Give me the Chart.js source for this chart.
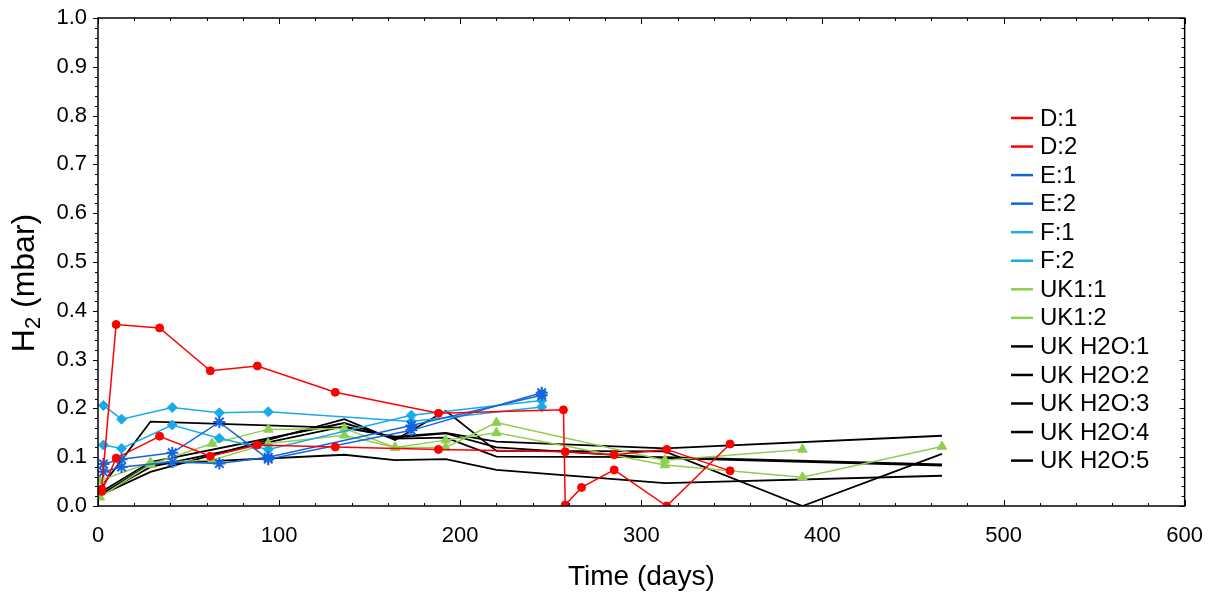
<!DOCTYPE html>
<html>
<head>
<meta charset="utf-8">
<script src="https://cdn.jsdelivr.net/npm/chart.js@4.4.1/dist/chart.umd.min.js"></script>
<style>
  html, body { margin: 0; padding: 0; background: #fff; }
  #wrap { width: 1212px; height: 594px; }
</style>
</head>
<body>
<div id="wrap"><canvas id="myChart" width="1212" height="594"></canvas></div>
<script>
// values (days, mbar)
var dX1 = [2, 10, 34, 62, 88, 131, 188, 257, 258, 267, 285, 314, 349];
var dY1 = [0.035, 0.372, 0.365, 0.277, 0.287, 0.233, 0.19, 0.197, 0.002, 0.038, 0.074, 0.0, 0.127];
var dX2 = [2, 10, 34, 62, 88, 131, 188, 258, 285, 314, 349];
var dY2 = [0.03, 0.098, 0.143, 0.102, 0.125, 0.121, 0.116, 0.111, 0.105, 0.116, 0.072];

var efX = [3, 13, 41, 67, 94, 173, 245];
var eY1 = [0.086, 0.096, 0.109, 0.172, 0.096, 0.155, 0.232];
var eY2 = [0.070, 0.080, 0.090, 0.087, 0.100, 0.165, 0.227];
var fY1 = [0.206, 0.178, 0.202, 0.191, 0.193, 0.173, 0.203];
var fY2 = [0.125, 0.118, 0.166, 0.139, 0.116, 0.186, 0.216];

var ukX1 = [1, 29, 63, 94, 136, 164, 192, 220, 313, 389];
var ukY1 = [0.018, 0.085, 0.128, 0.157, 0.159, 0.12, 0.12, 0.171, 0.094, 0.116];
var ukX2 = [1, 29, 63, 94, 136, 164, 192, 220, 313, 389, 466];
var ukY2 = [0.052, 0.089, 0.094, 0.128, 0.145, 0.12, 0.135, 0.150, 0.084, 0.059, 0.122];

var hX = [0, 29, 136, 164, 192, 220, 313, 466];
var hY1 = [0.03, 0.173, 0.16, 0.142, 0.15, 0.132, 0.118, 0.144];
var hX2 = [0, 29, 136, 164, 192, 220, 313, 389, 466];
var hY2 = [0.02, 0.07, 0.178, 0.135, 0.195, 0.113, 0.112, 0.0, 0.107];
var hY3 = [0.02, 0.08, 0.163, 0.14, 0.149, 0.12, 0.098, 0.083];
var hY4 = [0.02, 0.086, 0.105, 0.094, 0.096, 0.074, 0.047, 0.062];
var hY5 = [0.025, 0.09, 0.17, 0.138, 0.14, 0.101, 0.1, 0.085];

var xTicks = [0, 100, 200, 300, 400, 500, 600];
var yTicks = [0, 0.1, 0.2, 0.3, 0.4, 0.5, 0.6, 0.7, 0.8, 0.9, 1.0];

var RED = '#ff0000', BLUE = '#1565dc', LBLUE = '#19aaea', GREEN = '#8dcf4f', BLACK = '#000000';
var FONT = '"Liberation Sans", Arial, sans-serif';

function pts(xs, ys) {
  var out = [];
  for (var i = 0; i < xs.length; i++) out.push({x: xs[i], y: ys[i]});
  return out;
}

function series(label, xs, ys, color, style, r, bw) {
  return {
    label: label,
    data: pts(xs, ys),
    borderColor: color,
    backgroundColor: color,
    borderWidth: bw || 1.5,
    pointStyle: style || false,
    pointRadius: style ? r : 0,
    pointBorderWidth: style === 'star' ? 2 : 1,
    tension: 0
  };
}

// frame, major/minor ticks, y title and the in-plot legend
var framePlugin = {
  id: 'frame',
  afterDraw: function(chart) {
    var c = chart.ctx, a = chart.chartArea;
    var xs = chart.scales.x, ys = chart.scales.y;
    c.save();
    c.strokeStyle = '#000';
    c.lineWidth = 1.5;
    c.strokeRect(a.left, a.top, a.right - a.left, a.bottom - a.top);
    c.lineWidth = 1;
    c.beginPath();
    for (var v = 0; v <= 600; v += 20) {
      var px = Math.round(xs.getPixelForValue(v)) + 0.5;
      var len = (v % 100 === 0) ? 6 : 3;
      c.moveTo(px, a.bottom); c.lineTo(px, a.bottom - len);
      c.moveTo(px, a.top); c.lineTo(px, a.top + len);
    }
    for (var k = 0; k <= 50; k++) {
      var py = Math.round(ys.getPixelForValue(k * 0.02)) + 0.5;
      var l2 = (k % 5 === 0) ? 5 : 3;
      c.moveTo(a.left, py); c.lineTo(a.left - l2, py);
      c.moveTo(a.right, py); c.lineTo(a.right - l2, py);
    }
    c.stroke();

    // y title with a real subscript
    c.fillStyle = '#000';
    c.translate(34, 283);
    c.rotate(-Math.PI / 2);
    var big = '32px ' + FONT, small = '22px ' + FONT;
    c.font = big; var wH = c.measureText('H').width, wR = c.measureText(' (mbar)').width;
    c.font = small; var w2 = c.measureText('2').width;
    var x0 = -(wH + w2 + wR) / 2;
    c.textAlign = 'left';
    c.textBaseline = 'alphabetic';
    c.font = big; c.fillText('H', x0, 0);
    c.font = small; c.fillText('2', x0 + wH, 6);
    c.font = big; c.fillText(' (mbar)', x0 + wH + w2, 0);
    c.setTransform(1, 0, 0, 1, 0, 0);

    // legend
    var ds = chart.data.datasets;
    var lx = 1011, ly = 118, step = 28.55;
    c.font = '24px ' + FONT;
    c.textBaseline = 'middle';
    c.textAlign = 'left';
    for (var i = 0; i < ds.length; i++) {
      var y = ly + i * step;
      c.strokeStyle = ds[i].borderColor;
      c.lineWidth = 2.5;
      c.beginPath();
      c.moveTo(lx, y); c.lineTo(lx + 22, y);
      c.stroke();
      c.fillStyle = '#000';
      c.fillText(ds[i].label, lx + 29, y + 1);
    }
    c.restore();
  }
};

var ctx = document.getElementById('myChart');
new Chart(ctx, {
  type: 'line',
  data: {
    datasets: [
      series('D:1', dX1, dY1, RED, 'circle', 4),
      series('D:2', dX2, dY2, RED, 'circle', 4),
      series('E:1', efX, eY1, BLUE, 'star', 6),
      series('E:2', efX, eY2, BLUE, 'star', 6),
      series('F:1', efX, fY1, LBLUE, 'rectRot', 5),
      series('F:2', efX, fY2, LBLUE, 'rectRot', 5),
      series('UK1:1', ukX1, ukY1, GREEN, 'triangle', 5.5),
      series('UK1:2', ukX2, ukY2, GREEN, 'triangle', 5.5),
      series('UK H2O:1', hX, hY1, BLACK, false, 0, 1.8),
      series('UK H2O:2', hX2, hY2, BLACK, false, 0, 1.8),
      series('UK H2O:3', hX, hY3, BLACK, false, 0, 1.8),
      series('UK H2O:4', hX, hY4, BLACK, false, 0, 1.8),
      series('UK H2O:5', hX, hY5, BLACK, false, 0, 1.8)
    ]
  },
  plugins: [framePlugin],
  options: {
    responsive: false,
    animation: false,
    layout: { padding: { top: 18, right: 27, left: 0, bottom: 0 } },
    plugins: { legend: { display: false }, tooltip: { enabled: false } },
    scales: {
      x: {
        type: 'linear',
        min: 0, max: 600,
        afterFit: function(s) { s.height = 88; },
        afterBuildTicks: function(s) { s.ticks = xTicks.map(function(v) { return {value: v}; }); },
        grid: { display: false },
        border: { display: false },
        ticks: { color: '#000', font: { size: 22, family: FONT }, padding: 9, maxRotation: 0 },
        title: { display: true, text: 'Time (days)', color: '#000', font: { size: 28, family: FONT }, padding: { top: 4, bottom: 0 } }
      },
      y: {
        min: 0, max: 1,
        afterFit: function(s) { s.width = 98; },
        afterBuildTicks: function(s) { s.ticks = yTicks.map(function(v) { return {value: v}; }); },
        grid: { display: false },
        border: { display: false },
        ticks: { color: '#000', font: { size: 22, family: FONT }, padding: 3,
          callback: function(v) { return v.toFixed(1); } }
      }
    }
  }
});
</script>
</body>
</html>
